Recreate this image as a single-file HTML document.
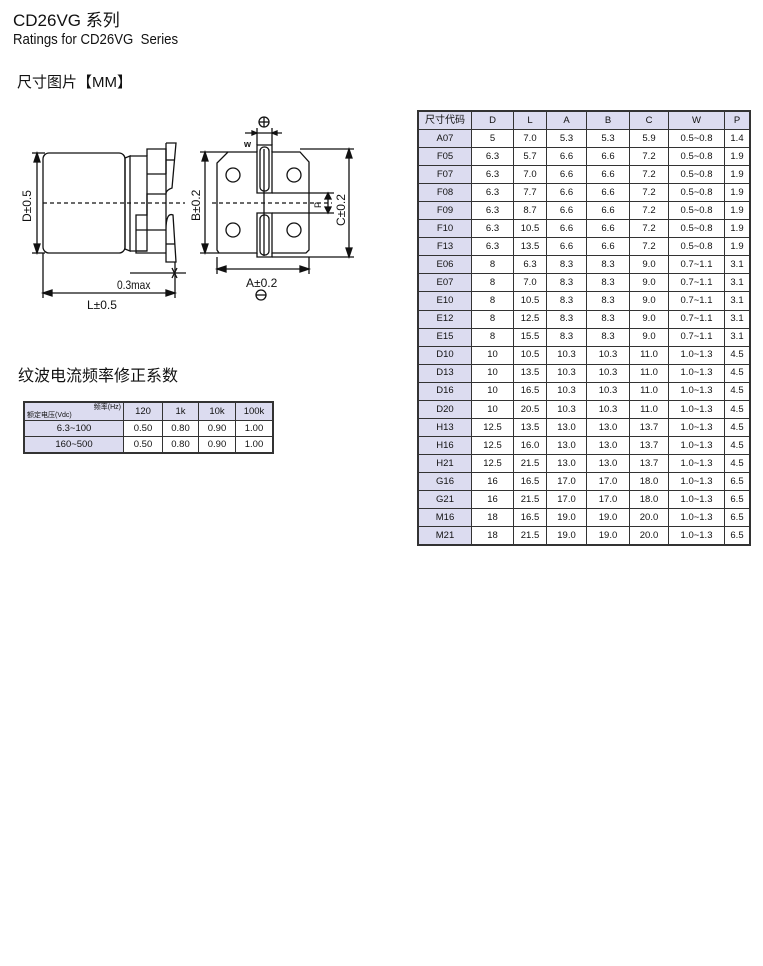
<!DOCTYPE html>
<html><head><meta charset="utf-8"><style>
body{margin:0;width:763px;height:966px;background:#fff;position:relative;font-family:"Liberation Sans","Noto Sans CJK SC",sans-serif;color:#111;overflow:hidden}
.t{position:absolute;white-space:nowrap}
table{position:absolute;border-collapse:collapse;font-size:9.5px;text-align:center;font-family:"Liberation Sans","Noto Sans CJK SC",sans-serif}
td{border:1px solid #333;padding:0;line-height:1}
td.h{background:#dcdcf0}
#big td{height:17.05px}
#sm td{height:15px}
</style></head><body>
<div class="t" style="left:13px;top:6px;font-size:17px">CD26VG 系列</div>
<div class="t" style="left:13px;top:31px;font-size:15px;transform:scaleX(0.88);transform-origin:left">Ratings for CD26VG&nbsp; Series</div>
<div class="t" style="left:17px;top:71px;font-size:15px">尺寸图片【MM】</div>
<div class="t" style="left:18px;top:362px;font-size:16px">纹波电流频率修正系数</div>

<svg style="position:absolute;left:0;top:0" width="380" height="320" viewBox="0 0 380 320" fill="none" stroke="#111" stroke-width="1.3">
<rect x="43" y="153" width="82" height="100" rx="6" fill="#fff"/>
<path d="M125 158 L130 156 L130 251 L125 249 Z"/>
<path d="M130 156 H147 V251 H130"/>
<path d="M147 156 V149 H166 V174 M147 174 H166 M166 194 H147 V215 H136 V251 H147 M136 215 V253 H166 M166 230 H136"/>
<path d="M166 143 H176 L172 188 Q166 190 166 194 M166 143 V262 H176 L173 215 Q166 212 166 230"/>
<line x1="166" y1="160" x2="175" y2="160"/><line x1="166" y1="244" x2="175" y2="244"/>
<line x1="43" y1="203" x2="185" y2="203" stroke-dasharray="4 3"/>
<line x1="37" y1="153" x2="37" y2="253"/>
<line x1="32" y1="153" x2="45" y2="153"/><line x1="32" y1="253" x2="45" y2="253"/>
<path d="M37 153 l-3 9 h6 Z M37 253 l-3 -9 h6 Z" fill="#111"/>
<line x1="43" y1="253" x2="43" y2="298"/><line x1="175" y1="262" x2="175" y2="298"/>
<line x1="43" y1="293" x2="175" y2="293"/>
<path d="M43 293 l9 -3 v6 Z M175 293 l-9 -3 v6 Z" fill="#111"/>
<line x1="130" y1="273" x2="186" y2="273"/>
<line x1="172" y1="268" x2="177" y2="278"/><line x1="177" y1="268" x2="172" y2="278"/>
<text x="117" y="289" font-size="12" fill="#111" stroke="none" font-family="Liberation Sans" transform="translate(117 0) scale(0.85 1) translate(-117 0)">0.3max</text>
<text x="87" y="309" font-size="12" fill="#111" stroke="none" font-family="Liberation Sans">L±0.5</text>
<text x="0" y="0" font-size="12" fill="#111" stroke="none" font-family="Liberation Sans" transform="translate(31 222) rotate(-90)">D±0.5</text>

<path d="M228 152 H257 V193 H272 V152 H300 L309 162 V250 L306 253 H272 V213 H257 V253 H219 L217 250 V163 Z" fill="#fff"/>
<path d="M257 152 V145 H272 V152 M257 253 V257 H272 V253"/>
<rect x="260" y="147" width="9" height="44" rx="4"/>
<rect x="260" y="215" width="9" height="40" rx="4"/>
<line x1="264" y1="149" x2="264" y2="256"/>
<circle cx="233" cy="175" r="7"/><circle cx="294" cy="175" r="7"/>
<circle cx="233" cy="230" r="7"/><circle cx="294" cy="230" r="7"/>
<line x1="212" y1="203" x2="332" y2="203" stroke-dasharray="4 3"/>
<line x1="200" y1="152" x2="228" y2="152"/><line x1="200" y1="253" x2="219" y2="253"/>
<line x1="205" y1="152" x2="205" y2="253"/>
<path d="M205 152 l-3 9 h6 Z M205 253 l-3 -9 h6 Z" fill="#111"/>
<line x1="300" y1="149" x2="354" y2="149"/><line x1="272" y1="257" x2="354" y2="257"/>
<line x1="349" y1="149" x2="349" y2="257"/>
<path d="M349 149 l-3 9 h6 Z M349 257 l-3 -9 h6 Z" fill="#111"/>
<line x1="272" y1="193" x2="334" y2="193"/><line x1="272" y1="213" x2="334" y2="213"/>
<line x1="328" y1="193" x2="328" y2="213"/>
<path d="M328 193 l-3 6 h6 Z M328 213 l-3 -6 h6 Z" fill="#111"/>
<line x1="217" y1="257" x2="217" y2="274"/><line x1="309" y1="257" x2="309" y2="274"/>
<line x1="217" y1="269" x2="309" y2="269"/>
<path d="M217 269 l9 -3 v6 Z M309 269 l-9 -3 v6 Z" fill="#111"/>
<line x1="257" y1="128" x2="257" y2="145"/><line x1="272" y1="128" x2="272" y2="145"/>
<line x1="245" y1="133" x2="282" y2="133"/>
<path d="M257 133 l-5 -2 v4 Z M272 133 l5 -2 v4 Z" fill="#111"/>
<circle cx="264" cy="122" r="5"/><line x1="259" y1="122" x2="269" y2="122"/><line x1="264" y1="117" x2="264" y2="127"/>
<circle cx="261" cy="295" r="5"/><line x1="256" y1="295" x2="266" y2="295"/>
<text x="244" y="147" font-size="9" fill="#111" stroke="none" font-family="Liberation Sans" font-weight="bold">w</text>
<text x="246" y="287" font-size="12" fill="#111" stroke="none" font-family="Liberation Sans">A±0.2</text>
<text x="0" y="0" font-size="12" fill="#111" stroke="none" font-family="Liberation Sans" transform="translate(200 221) rotate(-90)">B±0.2</text>
<text x="0" y="0" font-size="12" fill="#111" stroke="none" font-family="Liberation Sans" transform="translate(345 226) rotate(-90)">C±0.2</text>
<text x="0" y="0" font-size="9" fill="#111" stroke="none" font-family="Liberation Sans" transform="translate(321 208) rotate(-90)">P</text>
</svg>

<table id="sm" style="left:23px;top:401px;width:251px;border:2px solid #333">
<tr><td class="h" style="width:98px;height:17px;font-size:7px;text-align:left;position:relative"><span style="position:absolute;right:2px;top:1px">频率(Hz)</span><span style="position:absolute;left:2px;bottom:1px">额定电压(Vdc)</span></td><td class="h" style="width:38px">120</td><td class="h" style="width:35px">1k</td><td class="h" style="width:36px">10k</td><td class="h">100k</td></tr>
<tr><td class="h">6.3~100</td><td>0.50</td><td>0.80</td><td>0.90</td><td>1.00</td></tr>
<tr><td class="h">160~500</td><td>0.50</td><td>0.80</td><td>0.90</td><td>1.00</td></tr>
</table>

<table id="big" style="left:417px;top:110px;width:334px;border:2px solid #333">
<tr><td class="h" style="width:52px;font-size:10px">尺寸代码</td><td class="h" style="width:41px">D</td><td class="h" style="width:32px">L</td><td class="h" style="width:39px">A</td><td class="h" style="width:42px">B</td><td class="h" style="width:38px">C</td><td class="h" style="width:55px">W</td><td class="h">P</td></tr>
<tr><td class="h">A07</td><td>5</td><td>7.0</td><td>5.3</td><td>5.3</td><td>5.9</td><td>0.5~0.8</td><td>1.4</td></tr>
<tr><td class="h">F05</td><td>6.3</td><td>5.7</td><td>6.6</td><td>6.6</td><td>7.2</td><td>0.5~0.8</td><td>1.9</td></tr>
<tr><td class="h">F07</td><td>6.3</td><td>7.0</td><td>6.6</td><td>6.6</td><td>7.2</td><td>0.5~0.8</td><td>1.9</td></tr>
<tr><td class="h">F08</td><td>6.3</td><td>7.7</td><td>6.6</td><td>6.6</td><td>7.2</td><td>0.5~0.8</td><td>1.9</td></tr>
<tr><td class="h">F09</td><td>6.3</td><td>8.7</td><td>6.6</td><td>6.6</td><td>7.2</td><td>0.5~0.8</td><td>1.9</td></tr>
<tr><td class="h">F10</td><td>6.3</td><td>10.5</td><td>6.6</td><td>6.6</td><td>7.2</td><td>0.5~0.8</td><td>1.9</td></tr>
<tr><td class="h">F13</td><td>6.3</td><td>13.5</td><td>6.6</td><td>6.6</td><td>7.2</td><td>0.5~0.8</td><td>1.9</td></tr>
<tr><td class="h">E06</td><td>8</td><td>6.3</td><td>8.3</td><td>8.3</td><td>9.0</td><td>0.7~1.1</td><td>3.1</td></tr>
<tr><td class="h">E07</td><td>8</td><td>7.0</td><td>8.3</td><td>8.3</td><td>9.0</td><td>0.7~1.1</td><td>3.1</td></tr>
<tr><td class="h">E10</td><td>8</td><td>10.5</td><td>8.3</td><td>8.3</td><td>9.0</td><td>0.7~1.1</td><td>3.1</td></tr>
<tr><td class="h">E12</td><td>8</td><td>12.5</td><td>8.3</td><td>8.3</td><td>9.0</td><td>0.7~1.1</td><td>3.1</td></tr>
<tr><td class="h">E15</td><td>8</td><td>15.5</td><td>8.3</td><td>8.3</td><td>9.0</td><td>0.7~1.1</td><td>3.1</td></tr>
<tr><td class="h">D10</td><td>10</td><td>10.5</td><td>10.3</td><td>10.3</td><td>11.0</td><td>1.0~1.3</td><td>4.5</td></tr>
<tr><td class="h">D13</td><td>10</td><td>13.5</td><td>10.3</td><td>10.3</td><td>11.0</td><td>1.0~1.3</td><td>4.5</td></tr>
<tr><td class="h">D16</td><td>10</td><td>16.5</td><td>10.3</td><td>10.3</td><td>11.0</td><td>1.0~1.3</td><td>4.5</td></tr>
<tr><td class="h">D20</td><td>10</td><td>20.5</td><td>10.3</td><td>10.3</td><td>11.0</td><td>1.0~1.3</td><td>4.5</td></tr>
<tr><td class="h">H13</td><td>12.5</td><td>13.5</td><td>13.0</td><td>13.0</td><td>13.7</td><td>1.0~1.3</td><td>4.5</td></tr>
<tr><td class="h">H16</td><td>12.5</td><td>16.0</td><td>13.0</td><td>13.0</td><td>13.7</td><td>1.0~1.3</td><td>4.5</td></tr>
<tr><td class="h">H21</td><td>12.5</td><td>21.5</td><td>13.0</td><td>13.0</td><td>13.7</td><td>1.0~1.3</td><td>4.5</td></tr>
<tr><td class="h">G16</td><td>16</td><td>16.5</td><td>17.0</td><td>17.0</td><td>18.0</td><td>1.0~1.3</td><td>6.5</td></tr>
<tr><td class="h">G21</td><td>16</td><td>21.5</td><td>17.0</td><td>17.0</td><td>18.0</td><td>1.0~1.3</td><td>6.5</td></tr>
<tr><td class="h">M16</td><td>18</td><td>16.5</td><td>19.0</td><td>19.0</td><td>20.0</td><td>1.0~1.3</td><td>6.5</td></tr>
<tr><td class="h">M21</td><td>18</td><td>21.5</td><td>19.0</td><td>19.0</td><td>20.0</td><td>1.0~1.3</td><td>6.5</td></tr>
</table>
</body></html>
